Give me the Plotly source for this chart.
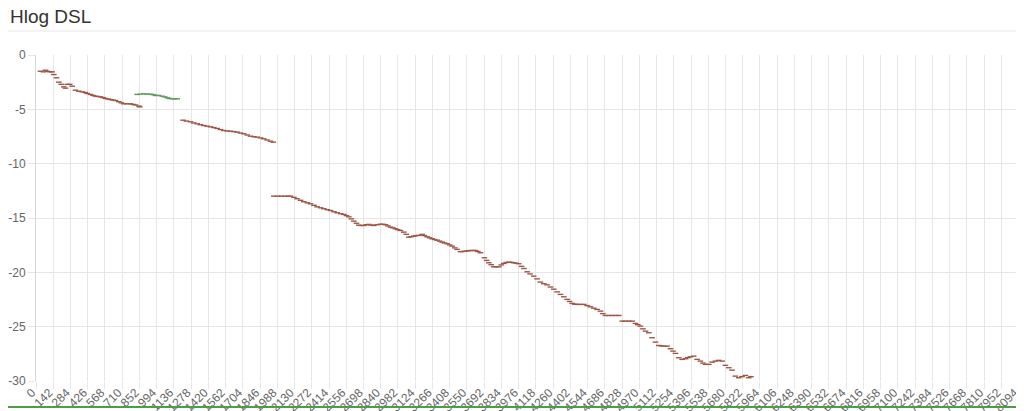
import plotly.graph_objects as go

# tick labels on the tone axis
tone_ticks = [0, 142, 284, 426, 568, 710, 852, 994, 1136, 1278, 1420, 1562, 1704, 1846,
              1988, 2130, 2272, 2414, 2556, 2698, 2840, 2982, 3124, 3266, 3408, 3550, 3692,
              3834, 3976, 4118, 4260, 4402, 4544, 4686, 4828, 4970, 5112, 5254, 5396, 5538,
              5680, 5822, 5964, 6106, 6248, 6390, 6532, 6674, 6816, 6958, 7100, 7242, 7384,
              7526, 7668, 7810, 7952, 8094]
hlog_ticks = [0, -5, -10, -15, -20, -25, -30]
hlog_labels = ["0", "-5", "-10", "-15", "-20", "-25", "-30"]

# brown series (tone, hlog dB)
brown_tone = [
    37, 62, 78, 95, 115, 133, 147, 169, 188, 207, 229, 243, 257, 278, 298, 325, 353, 380,
    405, 422, 449, 470, 490, 510, 531, 552, 572, 594, 614, 635, 655, 682, 703, 723, 750,
    778, 800, 820, 847, 855,
    1212, 1240, 1273, 1300, 1328, 1355, 1382, 1410, 1437, 1465, 1492, 1520, 1547, 1575,
    1602, 1630, 1657, 1685, 1712, 1740, 1767, 1795, 1822, 1850, 1876, 1904, 1931, 1954,
    1959, 1990, 2020, 2050, 2075, 2096, 2125, 2151, 2180, 2206, 2235, 2261, 2290, 2316,
    2345, 2371, 2400, 2426, 2455, 2481, 2510, 2535, 2557, 2577, 2598, 2618, 2640, 2659,
    2680, 2700, 2720, 2741, 2762, 2782, 2810, 2838, 2860, 2879, 2900, 2920, 2940, 2961,
    2980, 3002, 3030, 3050, 3071, 3090, 3112, 3130, 3153, 3181, 3200, 3222, 3243, 3263,
    3284, 3304, 3325, 3346, 3366, 3387, 3408, 3428, 3450, 3469, 3497, 3518, 3538, 3560,
    3579, 3600, 3620, 3640, 3661, 3694, 3712, 3730, 3750, 3771, 3790, 3812, 3833, 3853,
    3874, 3894, 3915, 3935, 3956, 3977, 4000, 4020, 4046, 4070, 4100, 4128, 4155, 4183,
    4210, 4238, 4265, 4293, 4320, 4348, 4375, 4396, 4417, 4438, 4458, 4485, 4512, 4540,
    4567, 4595, 4622, 4650, 4670, 4691, 4720, 4746, 4775, 4801, 4829, 4856, 4883, 4911,
    4938, 4958, 4979, 5000, 5021, 5048, 5075, 5103, 5130, 5150, 5172, 5199, 5227, 5248,
    5268, 5295, 5323, 5350, 5370, 5391, 5418, 5446, 5473, 5495, 5515, 5542, 5570, 5597,
    5624, 5652, 5679, 5707, 5734, 5761, 5789, 5816, 5844, 5871, 5890,
]
brown_hlog = [
    -1.49, -1.55, -1.40, -1.50, -1.55, -1.55, -1.80, -2.10, -2.50, -2.70, -2.93, -3.05,
    -2.70, -2.70, -2.87, -3.24, -3.33, -3.39, -3.45, -3.54, -3.63, -3.72, -3.79, -3.82,
    -3.85, -3.92, -4.00, -4.05, -4.10, -4.15, -4.19, -4.30, -4.40, -4.49, -4.49, -4.49,
    -4.55, -4.60, -4.70, -4.77,
    -6.00, -6.08, -6.15, -6.25, -6.33, -6.42, -6.49, -6.55, -6.61, -6.68, -6.76, -6.86,
    -6.95, -6.99, -7.01, -7.05, -7.10, -7.18, -7.25, -7.36, -7.47, -7.52, -7.56, -7.63,
    -7.71, -7.82, -7.93, -8.02,
    -12.99, -12.99, -12.99, -12.99, -12.99, -12.99, -13.10, -13.23, -13.37, -13.50,
    -13.60, -13.69, -13.83, -13.97, -14.06, -14.15, -14.23, -14.31, -14.42, -14.52,
    -14.60, -14.67, -14.78, -14.89, -15.08, -15.29, -15.48, -15.66, -15.69, -15.69,
    -15.62, -15.59, -15.65, -15.69, -15.62, -15.57, -15.58, -15.62, -15.73, -15.84,
    -15.90, -15.99, -16.07, -16.15, -16.30, -16.50, -16.76, -16.72, -16.67, -16.62,
    -16.60, -16.51, -16.62, -16.73, -16.82, -16.91, -16.98, -17.04, -17.13, -17.22,
    -17.30, -17.37, -17.48, -17.59, -17.75, -17.89, -18.10, -18.08, -18.05, -18.02,
    -17.99, -17.99, -17.99, -18.08, -18.20, -18.66, -18.90, -19.12, -19.30, -19.49,
    -19.49, -19.49, -19.32, -19.18, -19.10, -19.06, -19.08, -19.12, -19.16, -19.21,
    -19.45, -19.65, -19.95, -20.15, -20.35, -20.60, -20.90, -21.05, -21.15, -21.35,
    -21.55, -21.80, -22.03, -22.25, -22.49, -22.68, -22.86, -22.93, -22.95, -22.95,
    -22.95, -23.06, -23.17, -23.30, -23.41, -23.57, -23.80, -23.97, -23.97, -23.97,
    -23.97, -23.97, -24.49, -24.49, -24.49, -24.49, -24.70, -24.82, -24.95, -25.20,
    -25.41, -25.56, -26.02, -26.42, -26.73, -26.77, -26.79, -26.79, -27.03, -27.25,
    -27.46, -27.86, -28.01, -27.95, -27.85, -27.77, -27.71, -28.01, -28.17, -28.35,
    -28.47, -28.47, -28.26, -28.17, -28.10, -28.17, -28.56, -28.78, -29.00, -29.55,
    -29.70, -29.60, -29.49, -29.70, -29.60,
]

# green series
green_tone = [833, 860, 888, 915, 943, 965, 984, 1010, 1039, 1060, 1081, 1100, 1122, 1143, 1163]
green_hlog = [-3.63, -3.60, -3.57, -3.60, -3.60, -3.65, -3.73, -3.72, -3.79, -3.85, -3.94,
              -4.00, -4.03, -4.03, -4.03]

BROWN = "#9d5646"
GREEN = "#5f9a5c"
GRID = "#e6e6e6"
FONT = "Liberation Sans, Arial, sans-serif"

# the page body has an 8px margin, so the figure is 8px smaller and everything
# is placed 8px up/left of where it shows in the screenshot
W, H = 1016, 403
PL, PW, PB, PH = 28, 988, 373, 326   # plot area (figure px)

fig = go.Figure()
for tones, vals, col in [(brown_tone, brown_hlog, BROWN), (green_tone, green_hlog, GREEN)]:
    fig.add_trace(go.Scatter(
        x=tones, y=vals, mode="markers",
        marker=dict(symbol="line-ew", size=4, line=dict(color=col, width=1.4)),
        hoverinfo="skip",
    ))

fig.update_layout(
    width=W, height=H,
    margin=dict(l=PL, r=W - PL - PW, t=PB - PH, b=H - PB),
    paper_bgcolor="white", plot_bgcolor="white",
    showlegend=False,
    font=dict(family=FONT, size=12, color="#666666"),
    xaxis=dict(range=[0, 8139], tickmode="array", tickvals=tone_ticks,
               ticktext=[str(t) for t in tone_ticks], tickangle=-45,
               showgrid=True, gridcolor=GRID, gridwidth=1, zeroline=False,
               ticks="outside", ticklen=7, tickcolor=GRID, automargin=False,
               ticklabelstandoff=-8, ticklabelshift=-4,
               showline=False, tickfont=dict(size=12, color="#666666")),
    yaxis=dict(range=[-30, 0], tickmode="array", tickvals=hlog_ticks, ticktext=hlog_labels,
               showgrid=True, gridcolor=GRID, gridwidth=1, zeroline=False,
               ticks="outside", ticklen=7, tickcolor=GRID, automargin=False,
               showline=True, linecolor="#d6d6d6", linewidth=1,
               tickfont=dict(size=12, color="#666666")),
    annotations=[
        dict(text="Hlog DSL", xref="paper", yref="paper",
             x=(0 - PL) / PW, y=(PB - 8) / PH, xanchor="left", yanchor="middle",
             showarrow=False, font=dict(family=FONT, size=19, color="#333333")),
    ],
    shapes=[
        dict(type="line", xref="paper", yref="paper",
             x0=-PL / PW, x1=1.0, y0=(PB - 23) / PH, y1=(PB - 23) / PH,
             line=dict(color="#e8e8e8", width=1)),
        dict(type="line", xref="paper", yref="paper",
             x0=-PL / PW, x1=1.0, y0=(PB - 399) / PH, y1=(PB - 399) / PH,
             line=dict(color="#48a044", width=2)),
    ],
)

fig.write_html("out.html")
